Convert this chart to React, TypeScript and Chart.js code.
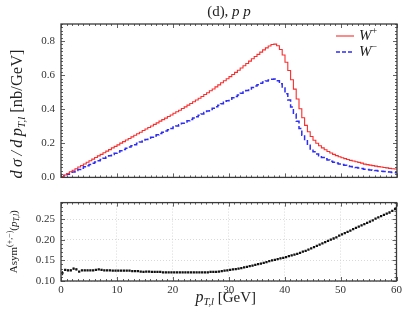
import React, { useEffect, useRef } from "react";
import { Chart, registerables } from "chart.js";

Chart.register(...registerables);

// ---------- data ----------
const X_MIN = 0;
const X_MAX = 60;
const BIN_WIDTH = 0.5;

// dσ/dpT,l for W+ (nb/GeV), 0.5 GeV bins from 0 to 60
const wPlus = [
  0.005, 0.014, 0.023, 0.033, 0.042, 0.051, 0.061, 0.07, 0.079, 0.089,
  0.098, 0.107, 0.117, 0.126, 0.135, 0.145, 0.154, 0.163, 0.173, 0.182,
  0.191, 0.201, 0.21, 0.219, 0.228, 0.238, 0.247, 0.256, 0.265, 0.275,
  0.284, 0.293, 0.302, 0.311, 0.32, 0.33, 0.339, 0.348, 0.357, 0.366,
  0.376, 0.385, 0.394, 0.404, 0.414, 0.424, 0.434, 0.444, 0.454, 0.464,
  0.475, 0.486, 0.497, 0.508, 0.519, 0.531, 0.543, 0.555, 0.567, 0.579,
  0.591, 0.604, 0.616, 0.629, 0.642, 0.655, 0.668, 0.682, 0.696, 0.709,
  0.722, 0.735, 0.748, 0.76, 0.771, 0.78, 0.782, 0.772, 0.75, 0.718,
  0.676, 0.627, 0.573, 0.518, 0.46, 0.403, 0.35, 0.305, 0.268, 0.24,
  0.218, 0.2, 0.186, 0.173, 0.162, 0.152, 0.143, 0.135, 0.128, 0.121,
  0.115, 0.11, 0.105, 0.1, 0.096, 0.092, 0.088, 0.084, 0.078, 0.075,
  0.072, 0.069, 0.066, 0.063, 0.061, 0.058, 0.056, 0.053, 0.051, 0.049,
];

// dσ/dpT,l for W- (nb/GeV)
const wMinus = [
  0.004, 0.011, 0.018, 0.025, 0.032, 0.04, 0.047, 0.054, 0.062, 0.069,
  0.076, 0.083, 0.091, 0.098, 0.105, 0.113, 0.12, 0.127, 0.134, 0.142,
  0.149, 0.156, 0.163, 0.171, 0.178, 0.185, 0.192, 0.2, 0.207, 0.214,
  0.222, 0.229, 0.236, 0.243, 0.25, 0.258, 0.265, 0.272, 0.279, 0.287,
  0.295, 0.302, 0.309, 0.317, 0.325, 0.332, 0.34, 0.348, 0.356, 0.364,
  0.372, 0.381, 0.389, 0.398, 0.406, 0.415, 0.424, 0.432, 0.441, 0.449,
  0.458, 0.467, 0.475, 0.484, 0.493, 0.501, 0.51, 0.519, 0.528, 0.536,
  0.544, 0.552, 0.56, 0.566, 0.572, 0.576, 0.577, 0.567, 0.549, 0.524,
  0.491, 0.454, 0.413, 0.372, 0.329, 0.287, 0.248, 0.215, 0.188, 0.167,
  0.151, 0.138, 0.127, 0.117, 0.109, 0.102, 0.095, 0.089, 0.084, 0.079,
  0.075, 0.071, 0.067, 0.064, 0.061, 0.058, 0.055, 0.052, 0.048, 0.046,
  0.044, 0.042, 0.04, 0.037, 0.036, 0.034, 0.033, 0.031, 0.029, 0.028,
];

// Asymmetry per bin
const asym = [
  0.119, 0.127, 0.126, 0.126, 0.13, 0.128, 0.123, 0.126, 0.126, 0.126,
  0.126, 0.126, 0.127, 0.128, 0.127, 0.126, 0.126, 0.126, 0.125, 0.125,
  0.125, 0.125, 0.125, 0.125, 0.125, 0.124, 0.124, 0.124, 0.123, 0.122,
  0.123, 0.123, 0.122, 0.122, 0.122, 0.122, 0.121, 0.121, 0.121, 0.121,
  0.121, 0.121, 0.121, 0.121, 0.121, 0.121, 0.121, 0.121, 0.121, 0.121,
  0.121, 0.121, 0.121, 0.122, 0.122, 0.122, 0.123, 0.124, 0.125, 0.126,
  0.127, 0.128, 0.129, 0.13, 0.131, 0.133, 0.134, 0.136, 0.137, 0.139,
  0.141, 0.142, 0.144, 0.146, 0.148, 0.15, 0.151, 0.153, 0.155, 0.156,
  0.158, 0.16, 0.162, 0.164, 0.166, 0.168, 0.171, 0.173, 0.176, 0.179,
  0.182, 0.185, 0.188, 0.191, 0.194, 0.197, 0.2, 0.203, 0.206, 0.21,
  0.213, 0.216, 0.219, 0.222, 0.226, 0.229, 0.232, 0.235, 0.238, 0.241,
  0.244, 0.247, 0.251, 0.254, 0.257, 0.26, 0.263, 0.266, 0.27, 0.274,
];
const asymErrFirst = [0.005, 0.002, 0.002, 0.002, 0.002, 0.002];
const asymErrRest = 0.001;

const xTicks = [0, 10, 20, 30, 40, 50, 60];
const topYTicks = [0, 0.2, 0.4, 0.6, 0.8];
const botYTicks = [0.1, 0.15, 0.2, 0.25];
const TOP_Y_MAX = 0.9;
const BOT_Y_MIN = 0.1;
const BOT_Y_MAX = 0.29;

// ---------- styles ----------
const SERIF = "'Liberation Serif', 'Times New Roman', serif";
const TEXT = "#222";
const TICK_TXT = "#333";
const FRAME = "#3a3a3a";
const RED = "rgb(250,45,45)";
const BLUE = "rgb(45,45,245)";
const GRID = "#cfcfcf";

type Seg = { t: string; size: number; italic?: boolean; dy?: number };

function segFont(s: Seg) {
  return `${s.italic ? "italic " : ""}${s.size}px ${SERIF}`;
}

function drawRich(ctx: CanvasRenderingContext2D, segs: Seg[], cx: number, cy: number, rot = 0, align: "center" | "left" = "center") {
  ctx.save();
  ctx.translate(cx, cy);
  if (rot) ctx.rotate(rot);
  let total = 0;
  const widths = segs.map((s) => {
    ctx.font = segFont(s);
    const w = ctx.measureText(s.t).width;
    total += w;
    return w;
  });
  let x = align === "center" ? -total / 2 : 0;
  ctx.textBaseline = "middle";
  ctx.textAlign = "left";
  ctx.fillStyle = TEXT;
  segs.forEach((s, i) => {
    ctx.font = segFont(s);
    ctx.fillText(s.t, x, s.dy || 0);
    x += widths[i];
  });
  ctx.restore();
}

function stepPoints(vals: number[]) {
  const pts = vals.map((v, i) => ({ x: X_MIN + i * BIN_WIDTH, y: v }));
  pts.push({ x: X_MAX, y: vals[vals.length - 1] });
  return pts;
}

function framePlugin(yMajor: number[], yMinorStep: number, yMin: number, yMax: number, xMinorStep: number) {
  return {
    id: "frameTicks",
    afterDatasetsDraw(chart: any) {
      const { ctx, chartArea: a, scales } = chart;
      const xs = scales.x;
      const ys = scales.y;
      ctx.save();
      ctx.strokeStyle = FRAME;
      ctx.lineWidth = 0.8;
      ctx.beginPath();
      const nx = Math.round((X_MAX - X_MIN) / xMinorStep);
      for (let i = 0; i <= nx; i++) {
        const v = X_MIN + i * xMinorStep;
        const major = xTicks.some((m) => Math.abs(m - v) < 1e-6);
        const len = major ? 4 : 2;
        const px = Math.round(xs.getPixelForValue(v)) + 0.5;
        ctx.moveTo(px, a.bottom);
        ctx.lineTo(px, a.bottom - len);
        ctx.moveTo(px, a.top);
        ctx.lineTo(px, a.top + len);
      }
      const ny = Math.round((yMax - yMin) / yMinorStep);
      for (let i = 0; i <= ny; i++) {
        const v = yMin + i * yMinorStep;
        const major = yMajor.some((m) => Math.abs(m - v) < 1e-6);
        const len = major ? 4 : 2;
        const py = Math.round(ys.getPixelForValue(v)) + 0.5;
        ctx.moveTo(a.left, py);
        ctx.lineTo(a.left + len, py);
        ctx.moveTo(a.right, py);
        ctx.lineTo(a.right - len, py);
      }
      ctx.stroke();
      ctx.lineWidth = 1.3;
      ctx.strokeRect(a.left, a.top, a.right - a.left, a.bottom - a.top);
      ctx.restore();
    },
  };
}

export default function App() {
  const topRef = useRef<HTMLCanvasElement>(null);
  const botRef = useRef<HTMLCanvasElement>(null);

  useEffect(() => {
    const tickFont = { family: SERIF, size: 11 };

    const topDecor = {
      id: "topDecor",
      afterDraw(chart: any) {
        const { ctx, chartArea: a } = chart;
        // title
        drawRich(ctx, [
          { t: "(d), ", size: 15 },
          { t: "p p", size: 15, italic: true },
        ], (a.left + a.right) / 2, 12);
        // y title
        drawRich(ctx, [
          { t: "d\u2009σ\u2009/\u2009d\u2009p", size: 16.5, italic: true },
          { t: "T,l", size: 11, italic: true, dy: 4 },
          { t: " [nb/GeV]", size: 16.5 },
        ], 18, 114, -Math.PI / 2);
        // legend
        const lx0 = a.right - 61;
        const lx1 = a.right - 43;
        const ly1 = a.top + 12;
        const ly2 = a.top + 28;
        ctx.save();
        ctx.strokeStyle = RED;
        ctx.lineWidth = 1.1;
        ctx.beginPath();
        ctx.moveTo(lx0, ly1);
        ctx.lineTo(lx1, ly1);
        ctx.stroke();
        ctx.strokeStyle = BLUE;
        ctx.lineWidth = 1.5;
        ctx.setLineDash([4, 2]);
        ctx.beginPath();
        ctx.moveTo(lx0, ly2);
        ctx.lineTo(lx1, ly2);
        ctx.stroke();
        ctx.restore();
        drawRich(ctx, [
          { t: "W", size: 15, italic: true },
          { t: "+", size: 10, dy: -5 },
        ], lx1 + 5, ly1, 0, "left");
        drawRich(ctx, [
          { t: "W", size: 15, italic: true },
          { t: "\u2212", size: 10, dy: -5 },
        ], lx1 + 5, ly2, 0, "left");
      },
    };

    const top = new Chart(topRef.current!, {
      type: "line",
      data: {
        datasets: [
          {
            label: "W+",
            data: stepPoints(wPlus),
            borderColor: RED,
            borderWidth: 1.1,
            stepped: "before",
            pointRadius: 0,
            fill: false,
          },
          {
            label: "W-",
            data: stepPoints(wMinus),
            borderColor: BLUE,
            borderWidth: 1.5,
            borderDash: [5, 2.5],
            stepped: "before",
            pointRadius: 0,
            fill: false,
          },
        ],
      },
      options: {
        animation: false,
        responsive: false,
        layout: { padding: { top: 24, right: 8, bottom: 3, left: 0 } },
        plugins: { legend: { display: false }, tooltip: { enabled: false } },
        scales: {
          x: { type: "linear", display: false, min: X_MIN, max: X_MAX },
          y: {
            type: "linear",
            min: 0,
            max: TOP_Y_MAX,
            afterFit: (s: any) => {
              s.width = 61;
            },
            afterBuildTicks: (s: any) => {
              s.ticks = topYTicks.map((v) => ({ value: v }));
            },
            grid: { display: false, drawTicks: false },
            border: { display: false },
            ticks: {
              padding: 6,
              font: tickFont,
              color: TICK_TXT,
              callback: (v: any) => Number(v).toFixed(1),
            },
          },
        },
      } as any,
      plugins: [framePlugin(topYTicks, 0.02, 0, TOP_Y_MAX, 1), topDecor],
    });

    const botDecor = {
      id: "botDecor",
      beforeDatasetsDraw(chart: any) {
        const { ctx, scales } = chart;
        const xs = scales.x;
        const ys = scales.y;
        ctx.save();
        ctx.strokeStyle = "#111";
        ctx.lineWidth = 1;
        ctx.beginPath();
        asym.forEach((v, i) => {
          const e = i < asymErrFirst.length ? asymErrFirst[i] : asymErrRest;
          const px = xs.getPixelForValue(X_MIN + (i + 0.5) * BIN_WIDTH);
          ctx.moveTo(px, ys.getPixelForValue(v - e));
          ctx.lineTo(px, ys.getPixelForValue(v + e));
        });
        ctx.stroke();
        ctx.restore();
      },
      afterDraw(chart: any) {
        const { ctx, chartArea: a } = chart;
        drawRich(ctx, [
          { t: "Asym", size: 11 },
          { t: "(+,\u2212)", size: 8, dy: -4 },
          { t: "(", size: 11 },
          { t: "p", size: 11, italic: true },
          { t: "T,l", size: 7.5, italic: true, dy: 3 },
          { t: ")", size: 11 },
        ], 14, (a.top + a.bottom) / 2, -Math.PI / 2);
        drawRich(ctx, [
          { t: "p", size: 16, italic: true },
          { t: "T,l", size: 10.5, italic: true, dy: 4 },
          { t: " [GeV]", size: 15 },
        ], (a.left + a.right) / 2 - 3, 108);
      },
    };

    const bot = new Chart(botRef.current!, {
      type: "scatter",
      data: {
        datasets: [
          {
            label: "Asym",
            data: asym.map((v, i) => ({ x: X_MIN + (i + 0.5) * BIN_WIDTH, y: v })),
            showLine: false,
            pointStyle: "rect",
            pointRadius: 1.6,
            backgroundColor: "#111",
            borderWidth: 0,
          },
        ],
      },
      options: {
        animation: false,
        responsive: false,
        layout: { padding: { top: 5, right: 8, bottom: 0, left: 0 } },
        plugins: { legend: { display: false }, tooltip: { enabled: false } },
        scales: {
          x: {
            type: "linear",
            min: X_MIN,
            max: X_MAX,
            afterFit: (s: any) => {
              s.height = 34;
            },
            afterBuildTicks: (s: any) => {
              s.ticks = xTicks.map((v) => ({ value: v }));
            },
            grid: { color: GRID, lineWidth: 0.8, drawTicks: false },
            border: { display: false, dash: [1, 2] },
            ticks: {
              padding: 3,
              font: tickFont,
              color: TICK_TXT,
              maxRotation: 0,
              autoSkip: false,
              callback: (v: any) => String(v),
            },
          },
          y: {
            type: "linear",
            min: BOT_Y_MIN,
            max: BOT_Y_MAX,
            afterFit: (s: any) => {
              s.width = 61;
            },
            afterBuildTicks: (s: any) => {
              s.ticks = botYTicks.map((v) => ({ value: v }));
            },
            grid: { color: GRID, lineWidth: 0.8, drawTicks: false },
            border: { display: false, dash: [1, 2] },
            ticks: {
              padding: 6,
              font: tickFont,
              color: TICK_TXT,
              callback: (v: any) => Number(v).toFixed(2),
            },
          },
        },
      } as any,
      plugins: [framePlugin(botYTicks, 0.01, BOT_Y_MIN, BOT_Y_MAX, 1), botDecor],
    });

    return () => {
      top.destroy();
      bot.destroy();
    };
  }, []);

  return (
    <div style={{ position: "fixed", left: 0, top: 0, width: 405, height: 315, background: "#fff" }}>
      <canvas ref={topRef} width={405} height={190} style={{ position: "absolute", left: 0, top: 0, width: 405, height: 190 }} />
      <canvas ref={botRef} width={405} height={125} style={{ position: "absolute", left: 0, top: 190, width: 405, height: 125 }} />
    </div>
  );
}
